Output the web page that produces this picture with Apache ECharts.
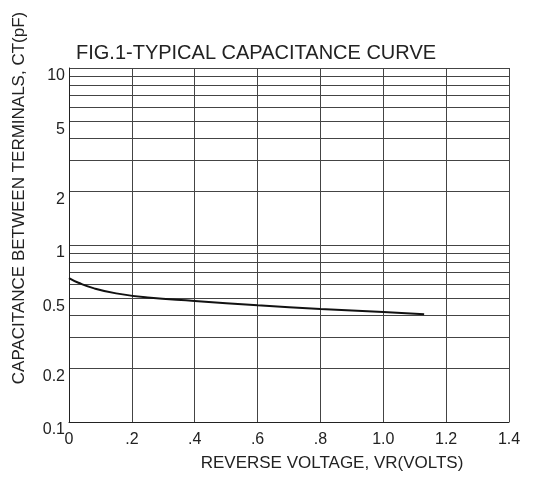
<!DOCTYPE html>
<html><head><meta charset="utf-8">
<script src="https://cdn.jsdelivr.net/npm/echarts@6/dist/echarts.min.js"></script>
<style>html,body{margin:0;padding:0;background:#fff}#c{width:537px;height:478px}</style>
</head><body><div id="c"></div>
<script>
const titleText = 'FIG.1-TYPICAL CAPACITANCE CURVE';
const xName = 'REVERSE VOLTAGE, VR(VOLTS)';
const yName = 'CAPACITANCE BETWEEN TERMINALS, CT(pF)';
const voltage = [0, 0.03, 0.08, 0.15, 0.25, 0.4, 0.6, 0.8, 1.0, 1.13];
const capacitance = [0.65, 0.612, 0.569, 0.533, 0.505, 0.483, 0.457, 0.435, 0.418, 0.406];
const xTickLabels = ['0', '.2', '.4', '.6', '.8', '1.0', '1.2', '1.4'];
const yTickLabels = [0.1, 0.2, 0.5, 1, 2, 5, 10];
const yGridValues = [0.1, 0.2, 0.3, 0.4, 0.5, 0.6, 0.7, 0.8, 0.9, 1, 2, 3, 4, 5, 6, 7, 8, 9, 10];

const font = 'Liberation Sans, Arial, sans-serif';
const chart = echarts.init(document.getElementById('c'), null, { renderer: 'canvas' });
chart.setOption({
  animation: false,
  backgroundColor: '#fff',
  title: {
    text: titleText, left: 76, top: 43, padding: 0,
    textStyle: { fontFamily: font, fontSize: 20, fontWeight: 'normal', color: '#222' }
  },
  grid: { left: 69, right: 28, top: 68, bottom: 56, containLabel: false },
  xAxis: {
    type: 'value', min: 0, max: 1.4, interval: 0.2,
    name: xName, nameLocation: 'middle', nameGap: 33,
    nameTextStyle: { fontFamily: font, fontSize: 17, color: '#222', padding: [0, 0, 0, 86] },
    axisLine: { show: true, lineStyle: { color: '#222', width: 1 } },
    axisTick: { show: false },
    axisLabel: {
      margin: 10, fontFamily: font, fontSize: 16, color: '#222',
      formatter: v => xTickLabels[Math.round(v / 0.2)]
    },
    splitLine: { show: true, lineStyle: { color: '#444', width: 1 } }
  },
  yAxis: {
    type: 'log', logBase: 10, min: 0.1, max: 10,
    name: yName, nameLocation: 'middle', nameGap: 41,
    nameTextStyle: { fontFamily: font, fontSize: 17, color: '#222', padding: [0, 0, 0, 94] },
    axisLine: { show: true, lineStyle: { color: '#222', width: 1 } },
    axisTick: { show: false, customValues: yGridValues },
    axisLabel: {
      customValues: yTickLabels, margin: 4, fontFamily: font, fontSize: 16, color: '#222',
      verticalAlign: 'top',
      formatter: v => String(+Number(v).toPrecision(6))
    },
    splitLine: { show: true, lineStyle: { color: '#444', width: 1 } }
  },
  series: [{
    type: 'line', smooth: 0.5, symbol: 'none',
    data: voltage.map((v, i) => [v, capacitance[i]]),
    lineStyle: { color: '#111', width: 2 }
  }]
});
</script></body></html>
